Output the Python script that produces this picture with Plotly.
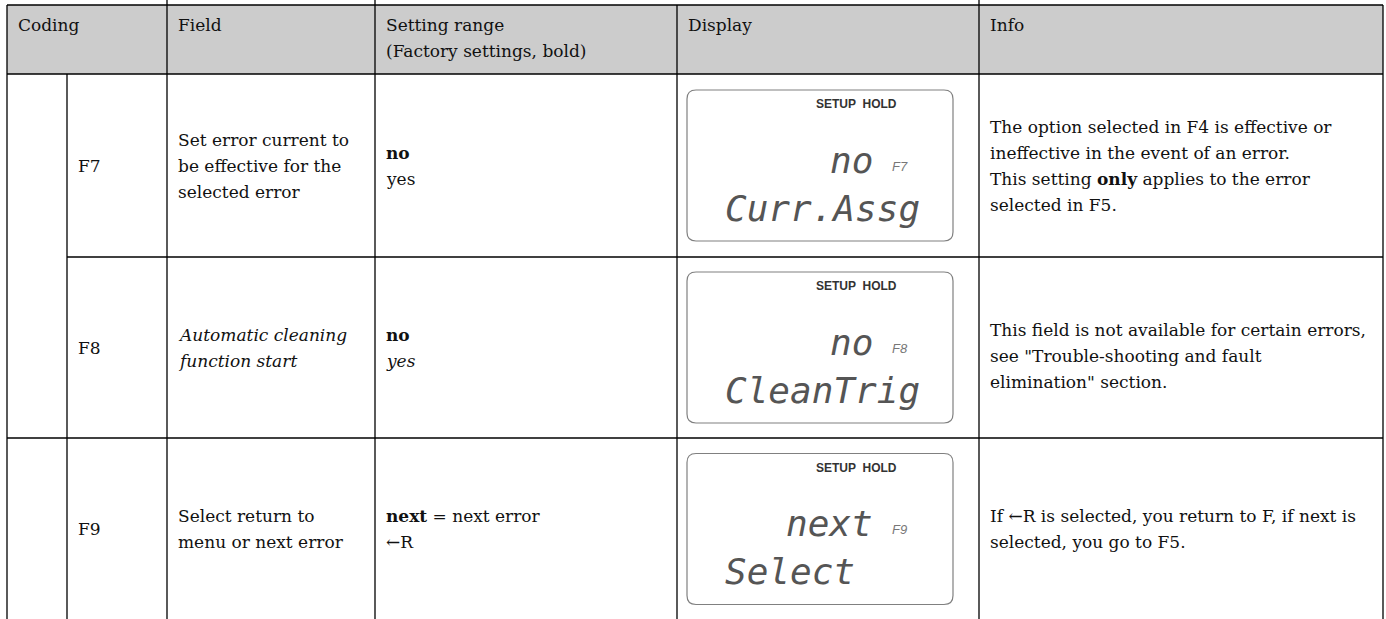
import plotly.graph_objects as go

# ---------------- data ----------------
header_labels = [["Coding"], ["Field"], ["Setting range", "(Factory settings, bold)"], ["Display"], ["Info"]]
codes = ["F7", "F8", "F9"]
field_texts = [
    ["Set error current to", "be effective for the", "selected error"],
    ["<i>Automatic cleaning</i>", "<i>function start</i>"],
    ["Select return to", "menu or next error"],
]
setting_texts = [
    ["<b>no</b>", "yes"],
    ["<b>no</b>", "<i>yes</i>"],
    ["<b>next</b> = next error", "←R"],
]
lcd_status = "SETUP  HOLD"
lcd_values = ["no", "no", "next"]
lcd_labels = ["F7", "F8", "F9"]
lcd_words = ["Curr.Assg", "CleanTrig", "Select"]
info_texts = [
    ["The option selected in F4 is effective or", "ineffective in the event of an error.",
     "This setting <b>only</b> applies to the error", "selected in F5."],
    ["This field is not available for certain errors,", "see \"Trouble-shooting and fault",
     "elimination\" section."],
    ["If ←R is selected, you return to F, if next is", "selected, you go to F5."],
]

# ---------------- layout geometry ----------------
W, H = 1386, 619
col_x = [7, 67, 167, 375, 677, 979, 1383]
row_y = [5, 74, 257, 438, 619]
row_centers = [165.5, 347.5, 529]
info_centers = [165.5, 356, 529]
PAD = 9
LINE = 26
FONT = "DejaVu Serif"
FS = 17
LINE_COLOR = "#000000"

fig = go.Figure()
shapes = []
annotations = []

# header background
shapes.append(dict(type="rect", x0=col_x[0], x1=col_x[-1], y0=row_y[0], y1=row_y[1],
                   fillcolor="#CCCCCC", line=dict(width=0), layer="below"))


def hline(y, x0, x1):
    shapes.append(dict(type="line", x0=x0, x1=x1, y0=y, y1=y,
                       line=dict(color=LINE_COLOR, width=1.3)))


def vline(x, y0, y1):
    shapes.append(dict(type="line", x0=x, x1=x, y0=y0, y1=y1,
                       line=dict(color=LINE_COLOR, width=1.3)))


hline(row_y[0], col_x[0], col_x[-1])
hline(row_y[1], col_x[0], col_x[-1])
hline(row_y[2], col_x[1], col_x[-1])
hline(row_y[3], col_x[0], col_x[-1])
vline(col_x[0], row_y[0], H)
vline(col_x[1], row_y[1], H)
for x in [col_x[2], col_x[3], col_x[5]]:
    vline(x, 0, H)
vline(col_x[4], row_y[0], H)
vline(col_x[6], row_y[0], H)


def text_lines(x, yc, lines, size=FS, family=FONT, color="#111111", spacing=LINE, anchor="left"):
    n = len(lines)
    for i, t in enumerate(lines):
        y = yc + (i - (n - 1) / 2) * spacing
        annotations.append(dict(x=x, y=y, text=t, showarrow=False, xanchor=anchor, yanchor="middle",
                                font=dict(family=family, size=size, color=color)))


# header texts
hdr_cols = [col_x[0], col_x[2], col_x[3], col_x[4], col_x[5]]
for x, lines in zip(hdr_cols, header_labels):
    for i, t in enumerate(lines):
        annotations.append(dict(x=x + PAD, y=25 + i * LINE, text=t, showarrow=False,
                                xanchor="left", yanchor="middle",
                                font=dict(family=FONT, size=FS, color="#111111")))

# body
for r in range(3):
    yc = row_centers[r]
    text_lines(col_x[1] + PAD, yc, [codes[r]])
    text_lines(col_x[2] + PAD, yc, field_texts[r])
    text_lines(col_x[3] + PAD, yc, setting_texts[r])
    text_lines(col_x[5] + PAD, info_centers[r], info_texts[r])

    # LCD display box
    bx0, bx1 = col_x[4] + 10, col_x[5] - 26
    bh = 151
    by0 = yc - bh / 2
    by1 = by0 + bh
    rr = 9
    path = (f"M {bx0 + rr},{by0} L {bx1 - rr},{by0} Q {bx1},{by0} {bx1},{by0 + rr} "
            f"L {bx1},{by1 - rr} Q {bx1},{by1} {bx1 - rr},{by1} L {bx0 + rr},{by1} "
            f"Q {bx0},{by1} {bx0},{by1 - rr} L {bx0},{by0 + rr} Q {bx0},{by0} {bx0 + rr},{by0} Z")
    shapes.append(dict(type="path", path=path, line=dict(color="#808080", width=1.2)))
    annotations.append(dict(x=bx0 + 169, y=by0 + 14, text=f"<b>{lcd_status}</b>", showarrow=False,
                            xanchor="center", yanchor="middle",
                            font=dict(family="Liberation Sans", size=12, color="#333333")))
    annotations.append(dict(x=bx0 + 188, y=by0 + 70, text=f"<i>{lcd_values[r]}</i>", showarrow=False,
                            xanchor="right", yanchor="middle",
                            font=dict(family="DejaVu Sans Mono", size=36, color="#555555")))
    annotations.append(dict(x=bx0 + 203, y=by0 + 76, text=f"<i>{lcd_labels[r]}</i>", showarrow=False,
                            xanchor="left", yanchor="middle",
                            font=dict(family="Liberation Sans", size=13, color="#777777")))
    annotations.append(dict(x=bx0 + 36, y=by0 + 118, text=f"<i>{lcd_words[r]}</i>", showarrow=False,
                            xanchor="left", yanchor="middle",
                            font=dict(family="DejaVu Sans Mono", size=36, color="#555555")))

fig.update_layout(
    width=W, height=H, margin=dict(l=0, r=0, t=0, b=0),
    paper_bgcolor="white", plot_bgcolor="white",
    xaxis=dict(range=[0, W], visible=False, fixedrange=True),
    yaxis=dict(range=[H, 0], visible=False, fixedrange=True),
    shapes=shapes, annotations=annotations, showlegend=False,
)
fig.write_html("out.html", config={"displayModeBar": False},
               post_script="document.body.style.margin='0';document.body.style.overflow='hidden';")
